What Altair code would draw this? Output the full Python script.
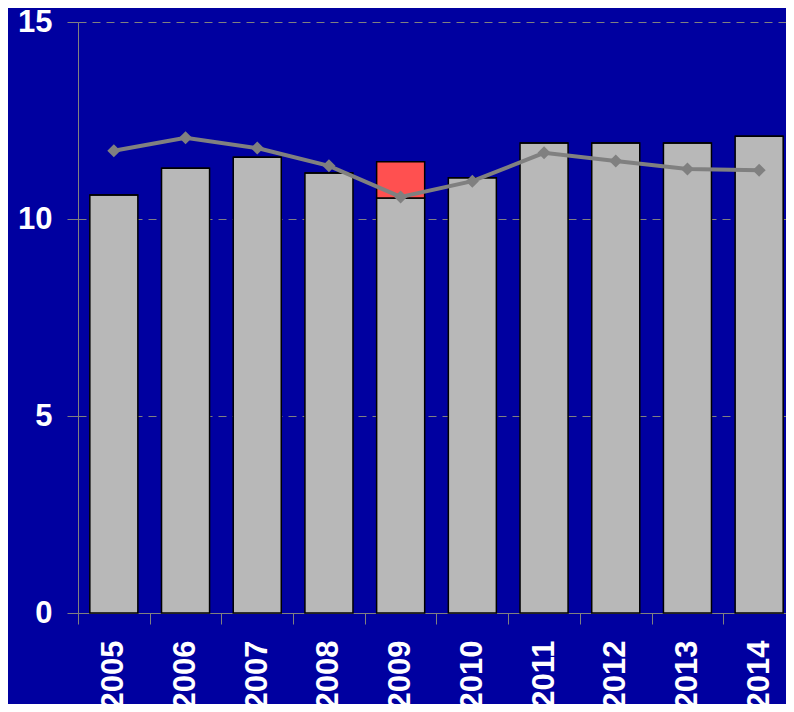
import altair as alt
import pandas as pd

years = ["2005", "2006", "2007", "2008", "2009", "2010", "2011", "2012", "2013", "2014"]
base_vals = [10.61, 11.29, 11.57, 11.17, 10.53, 11.05, 11.93, 11.93, 11.93, 12.10]
extra_vals = [0, 0, 0, 0, 0.92, 0, 0, 0, 0, 0]
line_vals = [11.73, 12.06, 11.80, 11.35, 10.56, 10.96, 11.68, 11.47, 11.27, 11.24]

BG = "#0000A0"
FONT = "Liberation Sans"

rows = []
for y, b, e in zip(years, base_vals, extra_vals):
    rows.append({"year": y, "part": "base", "order": 0, "value": b})
    rows.append({"year": y, "part": "extra", "order": 1, "value": e})
bars_df = pd.DataFrame(rows)
line_df = pd.DataFrame({"year": years, "value": line_vals})

x_scale = alt.Scale(paddingInner=0.33, paddingOuter=0.165, range=[0, 717])

x_enc = alt.X(
    "year:N",
    sort=years,
    title=None,
    scale=x_scale,
    axis=alt.Axis(
        labelAngle=270,
        labelFont=FONT,
        labelFontSize=31,
        labelFontWeight="bold",
        labelColor="white",
        labelPadding=16,
        tickOffset=-35.85,
        labelOffset=35.85,
        tickSize=11,
        tickColor="#808080",
        domainColor="#808080",
        grid=False,
    ),
)

y_scale = alt.Scale(domain=[0, 15], nice=False)

bars = alt.Chart(bars_df).mark_bar(stroke="black", strokeWidth=1.5).encode(
    x=x_enc,
    y=alt.Y(
        "value:Q",
        stack="zero",
        scale=y_scale,
        title=None,
        axis=alt.Axis(
            values=[0, 5, 10, 15],
            labelFont=FONT,
            labelFontSize=31,
            labelFontWeight="bold",
            labelColor="white",
            labelPadding=15,
            tickSize=11,
            tickColor="#808080",
            domainColor="#808080",
            grid=True,
            gridColor="#808080",
            gridDash=[8, 6],
            gridWidth=1,
        ),
    ),
    color=alt.Color(
        "part:N",
        scale=alt.Scale(domain=["base", "extra"], range=["#B8B8B8", "#FF5050"]),
        legend=None,
    ),
    order=alt.Order("order:Q"),
)

line = alt.Chart(line_df).mark_line(color="#808080", strokeWidth=4).encode(
    x=alt.X("year:N", sort=years, scale=x_scale),
    y=alt.Y("value:Q", scale=y_scale),
)

points = alt.Chart(line_df).mark_point(
    shape="diamond", filled=True, color="#808080", size=170, opacity=1
).encode(
    x=alt.X("year:N", sort=years, scale=x_scale),
    y=alt.Y("value:Q", scale=y_scale),
)

chart = (
    alt.layer(bars, line, points)
    .properties(
        width=708,
        height=591,
        background=BG,
        padding={"left": 70, "top": 14, "right": 0, "bottom": 91},
        autosize=alt.AutoSizeParams(type="none"),
    )
    .configure_view(fill=BG, stroke=None)
)

chart.save("out.html", embed_options={"renderer": "svg", "actions": False})
